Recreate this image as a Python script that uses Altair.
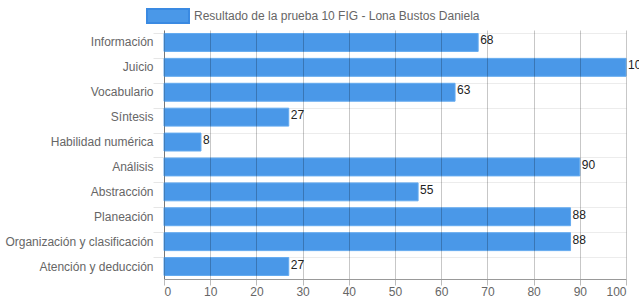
import altair as alt
import pandas as pd

categorias = ["Información", "Juicio", "Vocabulario", "Síntesis", "Habilidad numérica",
              "Análisis", "Abstracción", "Planeación", "Organización y clasificación",
              "Atención y deducción"]
valores = [68, 100, 63, 27, 8, 90, 55, 88, 88, 27]
serie = "Resultado de la prueba 10 FIG - Lona Bustos Daniela"

df = pd.DataFrame({"categoria": categorias, "valor": valores, "serie": [serie] * len(categorias)})

FONT = "Liberation Sans"

y_enc = alt.Y("categoria:N", sort=categorias, title=None,
              scale=alt.Scale(paddingInner=0.28, paddingOuter=0.14),
              axis=alt.Axis(bandPosition=0, grid=True, gridColor="#ececec", gridWidth=1,
                            tickColor="#e6e6e6", tickSize=11, domainColor="#999",
                            labelColor="#666", labelFontSize=12, labelFont=FONT,
                            labelPadding=0, zindex=0))
x_enc = alt.X("valor:Q", title=None,
              scale=alt.Scale(domain=[0, 100], nice=False),
              axis=alt.Axis(values=list(range(0, 101, 10)), grid=True,
                            gridColor="rgba(0,0,0,0.22)", domainColor="#999",
                            tickColor="#bbb", tickSize=6, labelColor="#666",
                            labelFontSize=12, labelFont=FONT, labelPadding=1, zindex=1))

bars = alt.Chart(df).mark_bar(stroke="#64abf0", strokeWidth=1).encode(
    y=y_enc, x=x_enc,
    color=alt.Color("serie:N", scale=alt.Scale(range=["#4a98e8"]),
                    legend=alt.Legend(title=None, orient="none", legendX=-18, legendY=-36,
                                      symbolType="M-1,-0.33L1,-0.33L1,0.33L-1,0.33Z",
                                      symbolSize=1764, symbolStrokeColor="#3a8ae2",
                                      symbolStrokeWidth=2, symbolFillColor="#4a98e8",
                                      labelFont=FONT, labelFontSize=12, labelColor="#666",
                                      labelOffset=4, labelLimit=0, padding=0)),
)

labels = alt.Chart(df).mark_text(align="left", baseline="middle", dx=2, dy=-2,
                                 font=FONT, fontSize=12, color="#222").encode(
    y=alt.Y("categoria:N", sort=categorias),
    x="valor:Q",
    text="valor:Q",
)

chart = (bars + labels).properties(
    width=462, height=249,
    autosize=alt.AutoSizeParams(type="none"),
    padding={"left": 164, "top": 30, "right": 13, "bottom": 29},
).configure_view(stroke=None)

chart.save("out.html", embed_options={"renderer": "svg", "actions": False})
